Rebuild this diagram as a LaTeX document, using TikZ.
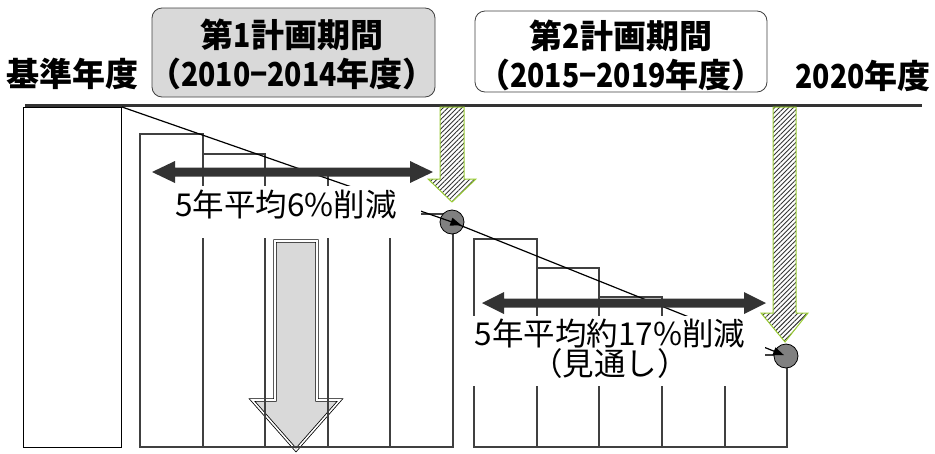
\documentclass[tikz,border=0pt]{standalone}
\usepackage{fontspec}
\newfontfamily\jp{Noto Sans CJK JP}
\newfontfamily\jpn[FakeStretch=0.86]{Noto Sans CJK JP}
\usetikzlibrary{patterns.meta,arrows.meta}
\definecolor{dk}{HTML}{333333}
\definecolor{barc}{HTML}{404040}
\definecolor{lgray}{HTML}{D9D9D9}
\definecolor{grn}{HTML}{99CC33}
\definecolor{dotc}{HTML}{808080}
\tikzset{
  barline/.style={draw=barc, line width=1.4pt},
  titlebox/.style={draw=barc, line width=0.8pt, rounded corners=10pt, inner sep=0pt},
  titletext/.style={align=center, inner sep=0pt, font=\jp\bfseries\fontsize{33}{39}\selectfont},
  boldlabel/.style={font=\jp\bfseries\fontsize{33}{36}\selectfont, inner sep=0pt},
  normlabel/.style={font=\jp\fontsize{31.5}{30}\selectfont, inner sep=0pt, align=center},
  hatcharrow/.style={draw=grn, line width=1pt, pattern={Lines[angle=45,distance=3.3pt,line width=0.9pt]}, pattern color=dk},
  dot/.style={circle, fill=dotc, draw=black, line width=0.8pt, minimum size=24pt, inner sep=0pt},
  trend/.style={line width=1.2pt, -{Triangle[length=11pt,width=8pt]}},
}
\begin{document}
\begin{tikzpicture}[x=1pt,y=-1pt]
\useasboundingbox (0,0) rectangle (935,453);
% big gray arrow
\draw[draw=black, line width=0.8pt, double=white, double distance=1.6pt, fill=lgray]
  (275,241) -- (317,241) -- (317,400) -- (340,400) -- (296,450) -- (252,400) -- (275,400) -- cycle;
% base bar
\node[draw=black, line width=1pt, minimum width=98pt, minimum height=340pt, inner sep=0pt, anchor=north west] (base) at (23,107) {};
% period 1 bars
\draw[barline] (140,134) rectangle (203,447);
\draw[barline] (203,154) rectangle (265,447);
\draw[barline] (265,174) rectangle (328,447);
\draw[barline] (328,194) rectangle (390,447);
\draw[barline] (390,214) rectangle (453,447);
% period 2 bars
\draw[barline] (474,239) rectangle (537,447);
\draw[barline] (537,268) rectangle (599,447);
\draw[barline] (599,297) rectangle (662,447);
\draw[barline] (662,326) rectangle (725,447);
\draw[barline] (725,355) rectangle (787,447);
% top line
\draw[dk, line width=3pt] (25,105) -- (922,105);
% circles
\node[dot] (c1) at (452,222) {};
\node[dot] (c2) at (786,356) {};
% trend lines
\draw[trend, shorten >=-10pt] (base.north east) -- (c1.center);
\draw[trend, shorten >=2pt] (c1.center) -- (c2.center);
% text 1
\fill[white] (148,186) rectangle (421,238);
\node[normlabel] (t1) at (286,205) {5年平均6\%削減};
% text 2
\fill[white] (466,316) rectangle (765,386);
\node[normlabel] (t2) at (610,348.5) {5年平均約17\%削減\\（見通し）};
% double arrows
\fill[dk] (152,172) -- (175,161) -- (175,167.5) -- (410,167.5) -- (410,161) -- (433,172) -- (410,183) -- (410,176.5) -- (175,176.5) -- (175,183) -- cycle;
\fill[dk] (482,303) -- (504,292) -- (504,298.5) -- (744,298.5) -- (744,292) -- (766,303) -- (744,314) -- (744,307.5) -- (504,307.5) -- (504,314) -- cycle;
% hatched arrows
\draw[hatcharrow] (440,107) -- (464,107) -- (464,179) -- (476,179) -- (452,202) -- (428,179) -- (440,179) -- cycle;
\draw[hatcharrow] (773,107) -- (796,107) -- (796,313) -- (808,313) -- (785,342) -- (761,313) -- (773,313) -- cycle;
% title boxes
\node[titlebox, fill=lgray, minimum width=283pt, minimum height=89pt] (p1) at (293.5,52.5) {};
\node[titletext] (p1t) at (292,54.5) {第{\jpn 1}計画期間\\（{\jpn 2010−2014}年度）};
\node[titlebox, fill=white, minimum width=292pt, minimum height=81pt] (p2) at (621,51.5) {};
\node[titletext] (p2t) at (621,55) {第{\jpn 2}計画期間\\（{\jpn 2015−2019}年度）};
\node[boldlabel] (k) at (72,74) {基準年度};
\node[boldlabel] (y2020) at (863,76) {{\jpn 2020}年度};
\end{tikzpicture}
\end{document}
